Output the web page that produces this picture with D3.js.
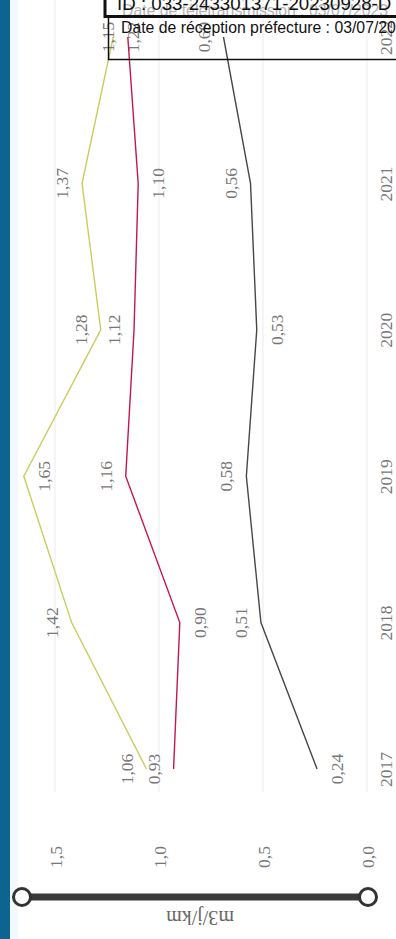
<!DOCTYPE html>
<html>
<head>
<meta charset="utf-8">
<script src="https://cdn.jsdelivr.net/npm/d3@7"></script>
<style>
  html, body { margin: 0; padding: 0; background: #ffffff; }
  svg { display: block; }
</style>
</head>
<body>
<svg id="chart" width="396" height="939"></svg>
<script>
// ---- data ----
const years = ["2017", "2018", "2019", "2020", "2021", "2022"];
const valuesYellow = [1.06, 1.42, 1.65, 1.28, 1.37, 1.22];
const valuesRed = [0.93, 0.90, 1.16, 1.12, 1.10, 1.15];
const valuesBlack = [0.24, 0.51, 0.58, 0.53, 0.56, 0.69];
const valueTicks = [0, 0.5, 1.0, 1.5];
const axisTitle = "m3/j/km";
const stampId = "ID : 033-243301371-20230928-D";
const stampTele = "Date de télétransmission : 03/07/2023";
const stampRecep = "Date de réception préfecture : 03/07/2023";

// label placement (-1 = above the point in chart terms, +1 = below)
const sideYellow = [-1, -1, 1, -1, -1, 1];
const sideRed = [-1, 1, -1, -1, 1, -1];
const sideBlack = [1, -1, -1, 1, -1, -1];

const series = [
  { values: valuesYellow, side: sideYellow, color: "#c9cd5e" },
  { values: valuesRed, side: sideRed, color: "#c3184a" },
  { values: valuesBlack, side: sideBlack, color: "#474747" }
];

const svg = d3.select("#chart");
const serif = "'Liberation Serif', 'DejaVu Serif', serif";
const sans = "'Liberation Sans', Arial, sans-serif";
const textGrey = "#777777";
const fs = "17.5px";

// chart is displayed rotated: values run right->left, years bottom->top
const x = d3.scaleLinear().domain([0, 1.5]).range([367, 55]);
const y = d3.scalePoint().domain(years).range([769, 37]);
const fmt2 = v => d3.format(".2f")(v).replace(".", ",");
const fmt1 = v => d3.format(".1f")(v).replace(".", ",");

// left blue strip
svg.append("rect").attr("x", 0).attr("y", 0).attr("width", 10).attr("height", 939).attr("fill", "#0b6590");
svg.append("rect").attr("x", 10).attr("y", 0).attr("width", 8).attr("height", 939).attr("fill", "#f1f9fc");

// gridlines
svg.append("g").selectAll("line").data(valueTicks).join("line")
  .attr("x1", d => x(d)).attr("x2", d => x(d))
  .attr("y1", 0).attr("y2", 792)
  .attr("stroke", "#ebebeb").attr("stroke-width", 1);

// value axis (tick labels)
const vAxis = svg.append("g").attr("transform", "translate(0,857)")
  .call(d3.axisBottom(x).tickValues(valueTicks).tickFormat(fmt1).tickSize(0));
vAxis.select(".domain").remove();
vAxis.selectAll("text")
  .attr("y", 0).attr("dy", "0.35em")
  .attr("transform", "rotate(-90)")
  .attr("text-anchor", "middle")
  .attr("fill", textGrey)
  .style("font-family", serif).style("font-size", fs);

// year axis
const yAxis = svg.append("g").attr("transform", "translate(386,0)")
  .call(d3.axisRight(y).tickSize(0));
yAxis.select(".domain").remove();
yAxis.selectAll("text")
  .attr("x", 0).attr("dy", "0.35em")
  .attr("transform", "rotate(-90)")
  .attr("text-anchor", "middle")
  .attr("fill", textGrey)
  .style("font-family", serif).style("font-size", fs);

// lines
const line = d3.line().x(d => x(d.v)).y(d => y(d.year));
series.forEach(s => {
  const pts = years.map((yr, i) => ({ year: yr, v: s.values[i], side: s.side[i] }));
  svg.append("path").datum(pts)
    .attr("d", line).attr("fill", "none")
    .attr("stroke", s.color).attr("stroke-width", 1.4);
  svg.append("g").selectAll("text").data(pts).join("text")
    .attr("transform", d => `translate(${x(d.v) + d.side * 20},${y(d.year)}) rotate(-90)`)
    .attr("text-anchor", "middle").attr("dy", "0.35em")
    .attr("fill", textGrey)
    .style("font-family", serif).style("font-size", fs)
    .text(d => fmt2(d.v));
});

// zoom slider
svg.append("line").attr("x1", x(1.5) - 33).attr("x2", x(0) + 1)
  .attr("y1", 897).attr("y2", 897)
  .attr("stroke", "#3b3b3b").attr("stroke-width", 7);
svg.append("g").selectAll("circle").data([x(1.5) - 33, x(0) + 1]).join("circle")
  .attr("cx", d => d).attr("cy", 897).attr("r", 8.5)
  .attr("fill", "#ffffff").attr("stroke", "#333333").attr("stroke-width", 3);

// axis title (upside down)
svg.append("text")
  .attr("transform", "translate(200,918) rotate(180)")
  .attr("text-anchor", "middle").attr("dy", "0.35em")
  .attr("fill", "#666666")
  .style("font-family", serif).style("font-size", "20px")
  .text(axisTitle);

// stamp overlay
const stamp = svg.append("g");
stamp.append("text").attr("x", 122).attr("y", 16)
  .attr("fill", "#b5b5b5")
  .style("font-family", sans).style("font-size", "15.8px")
  .text(stampTele);
stamp.append("text").attr("x", 117).attr("y", 10)
  .attr("fill", "#111111")
  .style("font-family", sans).style("font-size", "18.7px")
  .text(stampId);
stamp.append("rect").attr("x", 105).attr("y", -10).attr("width", 320).attr("height", 26.5)
  .attr("fill", "none").attr("stroke", "#111111").attr("stroke-width", 3);
stamp.append("rect").attr("x", 108.5).attr("y", 17).attr("width", 320).attr("height", 42.5)
  .attr("fill", "none").attr("stroke", "#111111").attr("stroke-width", 1.5);
stamp.append("text").attr("x", 121).attr("y", 33)
  .attr("fill", "#111111")
  .style("font-family", sans).style("font-size", "15.8px")
  .text(stampRecep);
</script>
</body>
</html>
